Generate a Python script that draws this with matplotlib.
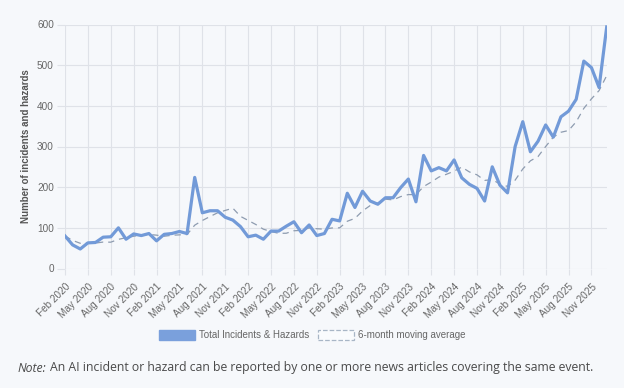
import matplotlib
matplotlib.use("Agg")
import matplotlib.pyplot as plt
from matplotlib.patches import Patch

# Monthly counts, Feb 2020 -> Jan 2026
incidents = [
    80, 58, 48, 63, 64, 77, 78, 100, 72, 85, 81, 86,
    68, 84, 86, 91, 86, 224, 137, 142, 142, 126, 119, 103,
    78, 82, 72, 92, 92, 104, 115, 88, 107, 81, 86, 121,
    117, 185, 150, 190, 166, 158, 174, 174, 199, 220, 164, 278,
    240, 248, 240, 267, 223, 207, 197, 166, 250, 205, 186, 300,
    361, 287, 313, 353, 323, 373, 387, 416, 510, 494, 445, 594,
]

# 6-month moving average (dashed line)
moving_avg = [
    80, 69, 62, 62.3, 62.6, 65, 64.7, 71.7, 75.7, 79.3, 82.2, 83.7,
    82, 79.3, 81.7, 82.7, 83.5, 106.5, 118, 127.7, 137, 142.8, 148.3, 128.2,
    118.3, 108.3, 96.7, 91, 86.5, 86.7, 92.8, 93.8, 99.7, 97.8, 96.8, 99.7,
    100, 116.2, 123.3, 141.5, 154.8, 161, 170.5, 168.7, 176.8, 181.8, 181.5, 201.5,
    212.5, 224.8, 231.7, 239.5, 249.3, 237.5, 230.3, 216.7, 218.3, 208, 201.8, 217.3,
    244.7, 264.8, 275.3, 300, 322.8, 335, 339.3, 360.8, 393.7, 417.2, 437.5, 474.3,
]

tick_labels = [
    "Feb 2020", "May 2020", "Aug 2020", "Nov 2020",
    "Feb 2021", "May 2021", "Aug 2021", "Nov 2021",
    "Feb 2022", "May 2022", "Aug 2022", "Nov 2022",
    "Feb 2023", "May 2023", "Aug 2023", "Nov 2023",
    "Feb 2024", "May 2024", "Aug 2024", "Nov 2024",
    "Feb 2025", "May 2025", "Aug 2025", "Nov 2025",
]

bg = "#f6f8fb"
grid_col = "#dfe2e8"
line_col = "#729ad8"
avg_col = "#8e9cb0"
text_col = "#666666"

plt.rcParams["font.family"] = ["Liberation Sans", "DejaVu Sans"]

fig = plt.figure(figsize=(6.24, 3.88), dpi=100, facecolor=bg)
ax = fig.add_axes([65 / 624, 1 - 268.5 / 388, (606.7 - 65) / 624, (268.5 - 24.5) / 388])
ax.set_facecolor(bg)

x = list(range(len(incidents)))
ax.plot(x, moving_avg, color=avg_col, linewidth=0.9, linestyle=(0, (5, 4)), zorder=2)
ax.plot(x, incidents, color=line_col, linewidth=2.3, solid_joinstyle="round", zorder=3)

ax.set_xlim(0, len(incidents) - 1)
ax.set_ylim(0, 600)
ax.set_yticks(range(0, 601, 100))
ax.set_xticks(range(0, len(incidents), 3))
ax.set_xticklabels(tick_labels, rotation=45, ha="right", rotation_mode="anchor")

for s in ax.spines.values():
    s.set_visible(False)
ax.grid(True, color=grid_col, linewidth=0.8)
ax.set_axisbelow(True)
ax.tick_params(axis="both", colors=grid_col, labelcolor=text_col, labelsize=7.2,
               width=0.8)
ax.tick_params(axis="x", length=4.5, pad=5)
ax.tick_params(axis="y", length=6, pad=2)

ax.set_ylabel("Number of incidents and hazards", fontsize=7, fontweight="bold",
              color="#555555", labelpad=4)

handles = [
    Patch(facecolor="#7aa0dc", edgecolor="#7aa0dc"),
    Patch(facecolor="#f9fbfd", edgecolor="#a8b6c6", linestyle="--", linewidth=0.9),
]
fig.legend(handles, ["Total Incidents & Hazards", "6-month moving average"],
           loc="center", bbox_to_anchor=(0.5, 1 - 335 / 388), ncol=2, frameon=False,
           fontsize=7, handlelength=3.7, handleheight=1.3, handletextpad=0.4,
           columnspacing=0.9, labelcolor=text_col)

t1 = fig.text(18 / 624, 1 - 368 / 388, "Note:", fontsize=8.8, style="italic",
              family="Open Sans", color="#4a4a4a", va="center")
fig.canvas.draw()
bb = t1.get_window_extent()
fig.text(bb.x1 / 624 + 3 / 624, 1 - 368 / 388,
         "An AI incident or hazard can be reported by one or more news articles covering the same event.",
         fontsize=8.8, family="Open Sans", color="#4a4a4a", va="center")

fig.savefig("out.png", dpi=100, facecolor=bg)
